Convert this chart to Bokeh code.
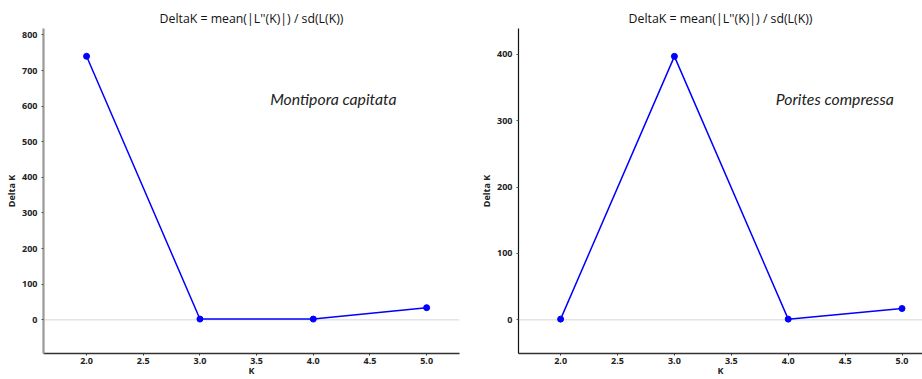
from bokeh.plotting import figure
from bokeh.layouts import row
from bokeh.models import SingleIntervalTicker, NumeralTickFormatter, Span, Label, Range1d
from bokeh.embed import file_html
from bokeh.resources import INLINE

k_values = [2, 3, 4, 5]
montipora_dk = [740, 2, 2, 34]
porites_dk = [1, 397, 1, 17]
title_text = "DeltaK = mean(|L''(K)|) / sd(L(K))"
species = ["Montipora capitata", "Porites compressa"]


def make_panel(yvals, width, border_left, border_right, xr, yr, yint, name, name_xy,
               yaxis_color, yaxis_width, title_offset):
    p = figure(width=width, height=379, output_backend="svg", toolbar_location=None,
               x_range=Range1d(*xr), y_range=Range1d(*yr),
               min_border_left=border_left, min_border_right=border_right,
               min_border_top=28, min_border_bottom=26)
    p.outline_line_color = None
    p.grid.visible = False
    p.background_fill_color = "white"
    p.border_fill_color = "white"

    p.title.text = title_text
    p.title.align = "center"
    p.title.text_font = "Open Sans"
    p.title.text_font_size = "12.3px"
    p.title.text_font_style = "normal"
    p.title.text_color = "#111111"
    p.title.offset = title_offset
    p.title.standoff = 3

    p.add_layout(Span(location=0, dimension="width", line_color="#e4e4e4", line_width=1.5,
                      level="underlay"))

    p.line(k_values, yvals, line_color="#0000ff", line_width=1.5)
    p.scatter(k_values, yvals, size=6, fill_color="#0000ff", line_color="#0000ff")

    p.xaxis.ticker = SingleIntervalTicker(interval=0.5)
    p.xaxis.formatter = NumeralTickFormatter(format="0.0")
    p.yaxis.ticker = SingleIntervalTicker(interval=yint)
    for ax in (p.xaxis, p.yaxis):
        ax.minor_tick_line_color = None
        ax.major_tick_out = 2
        ax.major_tick_in = 0
        ax.major_label_text_font = "Open Sans"
        ax.major_label_text_font_size = "9px"
        ax.major_label_text_font_style = "bold"
        ax.major_label_text_color = "#222222"
        ax.axis_label_text_font = "Open Sans"
        ax.axis_label_text_font_size = "9px"
        ax.axis_label_text_font_style = "bold"
        ax.axis_label_text_color = "#222222"
        ax.major_label_standoff = 2
        ax.axis_label_standoff = 1
    p.xaxis.major_label_standoff = 0
    p.xaxis.axis_label_standoff = -3
    p.xaxis.axis_label = "K"
    p.yaxis.axis_label = "Delta K"
    p.xaxis.axis_line_color = "#333333"
    p.xaxis.axis_line_width = 1.5
    p.xaxis.major_tick_line_color = "#333333"
    p.yaxis.axis_line_color = yaxis_color
    p.yaxis.axis_line_width = yaxis_width
    p.yaxis.major_tick_line_color = "#555555"

    p.add_layout(Label(x=name_xy[0], y=name_xy[1], text=name, text_font="Lato",
                       text_font_style="italic", text_font_size="15.8px", text_color="#222222",
                       text_baseline="middle", text_align="left"))
    return p


p1 = make_panel(montipora_dk, 460, 43, 1, (1.62, 5.29), (-94.7, 818), 100, species[0],
                (3.62, 622), "#999999", 2.2, 5)
p2 = make_panel(porites_dk, 462, 58, 0, (1.63, 5.18), (-50.8, 439), 100, species[1],
                (3.89, 334), "#111111", 1.2, 12)

layout = row(p1, p2)
open("out.html", "w").write(file_html(layout, INLINE))
